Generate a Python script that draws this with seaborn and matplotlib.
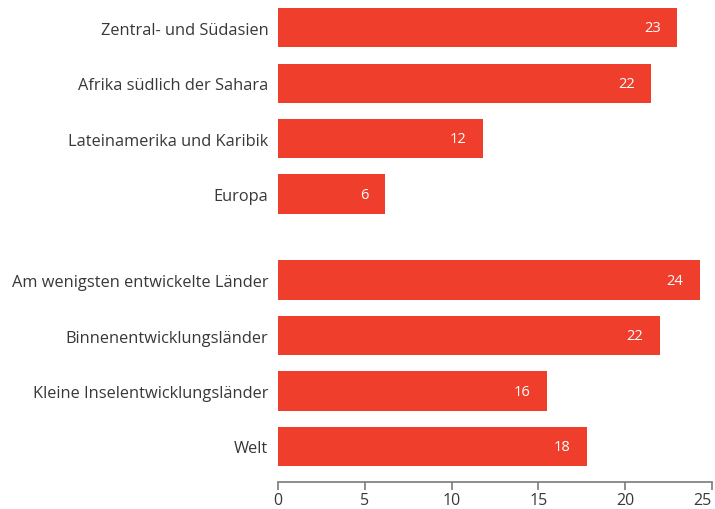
import numpy as np
import pandas as pd
import matplotlib
matplotlib.use("Agg")
import matplotlib.pyplot as plt
import seaborn as sns

# data
regions = ['Zentral- und Südasien', 'Afrika südlich der Sahara',
           'Lateinamerika und Karibik', 'Europa']
groups = ['Am wenigsten entwickelte Länder', 'Binnenentwicklungsländer',
          'Kleine Inselentwicklungsländer', 'Welt']
region_values = [23.0, 21.5, 11.8, 6.15]
group_values = [24.3, 22.0, 15.5, 17.8]

labels = regions + groups
values = region_values + group_values
block = [0] * len(regions) + [1] * len(groups)

df = pd.DataFrame({'label': labels, 'value': values, 'block': block})
# second block shifted down a bit to leave a gap
df['pos'] = np.arange(len(df)) + 0.55 * df['block']

sns.set_style('white')
plt.rcParams['font.family'] = ['Open Sans', 'DejaVu Sans']

fig = plt.figure(figsize=(7.15, 5.1), dpi=100)
ax = fig.add_axes([278 / 715, 27 / 510, 434 / 715, 483 / 510])

sns.barplot(data=df, x='value', y='pos', orient='h', native_scale=True,
            color='#EF3E2C', saturation=1, width=0.705, linewidth=0, ax=ax)

ax.set_xlim(0, 25)
ax.set_ylim(8.19, -0.515)
ax.set_yticks(df['pos'])
ax.set_yticklabels(df['label'], fontsize=11.8, color='#383838')
ax.tick_params(axis='y', length=0, pad=7)
ax.set_xticks([0, 5, 10, 15, 20, 25])
ax.tick_params(axis='x', bottom=True, direction='out', length=5.5, width=1.2,
               color='#7a7a7a', labelsize=11.5, labelcolor='#383838', pad=2)
# last label sits at the right edge, keep it inside the figure
ax.get_xticklabels()[-1].set_ha('right')
ax.set_xlabel('')
ax.set_ylabel('')

for side in ['top', 'right', 'left']:
    ax.spines[side].set_visible(False)
ax.spines['bottom'].set_color('#7a7a7a')
ax.spines['bottom'].set_linewidth(1.2)

for p, v in zip(df['pos'], df['value']):
    ax.annotate(f'{v:.0f}', xy=(v, p), xytext=(-12, 0), textcoords='offset points',
                ha='right', va='center', color='white', fontsize=10.5)

fig.savefig('out.png', dpi=100)
